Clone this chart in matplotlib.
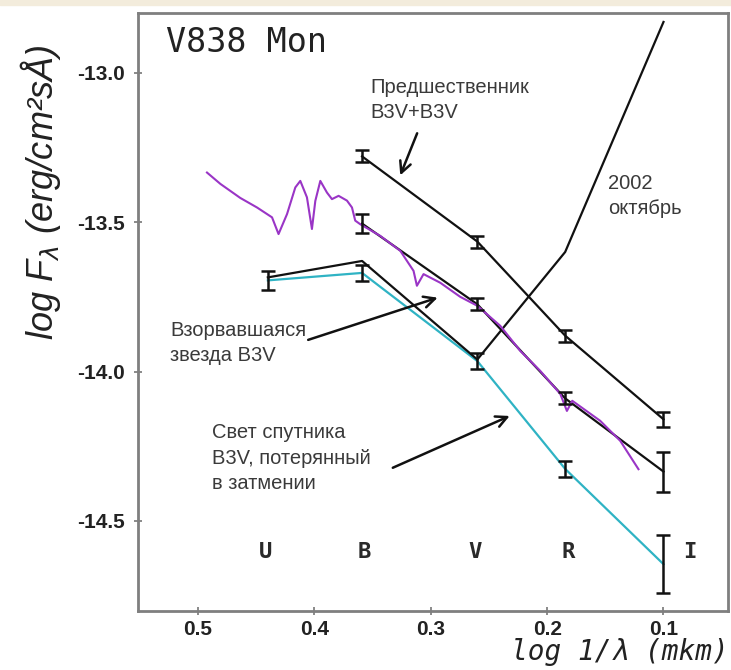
import matplotlib
matplotlib.use('Agg')
import matplotlib.pyplot as plt
from matplotlib.patches import Rectangle

plt.rcParams['axes.unicode_minus'] = False

# photometric bands and their log(1/lambda) positions
bands = ['U', 'B', 'V', 'R', 'I']
band_x = [0.44, 0.359, 0.26, 0.1845, 0.1]
band_label_x = [0.442, 0.357, 0.262, 0.182, 0.077]

# progenitor B3V+B3V (bands B..I)
prec_y = [-13.28, -13.565, -13.88, -14.16]
prec_err = [0.02, 0.02, 0.02, 0.025]

# exploded star B3V (bands B..I)
expl_y = [-13.505, -13.775, -14.09, -14.335]
expl_err = [0.033, 0.02, 0.02, 0.067]

# companion light lost in eclipse (bands U..I)
comp_y = [-13.695, -13.670, -13.965, -14.326, -14.645]
comp_err = [0.033, 0.028, 0.028, 0.028, 0.097]

# October 2002 (bands U..I)
oct_y = [-13.685, -13.63, -13.96, -13.60, -12.83]

# B3V spectrum
spec_x = [0.4923, 0.4808, 0.4637, 0.4493, 0.4364, 0.4308, 0.4235, 0.4164, 0.4121,
          0.4064, 0.4021, 0.3992, 0.3949, 0.3892, 0.3849, 0.3792, 0.3720, 0.3677,
          0.3649, 0.3606, 0.3434, 0.3262, 0.3148, 0.3119, 0.3062, 0.2918, 0.2747,
          0.2600, 0.2403, 0.2231, 0.2059, 0.1887, 0.1830, 0.1784, 0.1544, 0.1372,
          0.1215]
spec_y = [-13.334, -13.372, -13.419, -13.451, -13.484, -13.540, -13.473, -13.384, -13.362,
          -13.417, -13.523, -13.429, -13.362, -13.401, -13.423, -13.412, -13.428, -13.451,
          -13.495, -13.507, -13.546, -13.596, -13.663, -13.713, -13.674, -13.703, -13.750,
          -13.780, -13.847, -13.931, -13.998, -14.075, -14.132, -14.098, -14.165, -14.232,
          -14.327]

W, H = 731, 670
fig = plt.figure(figsize=(W / 100, H / 100), dpi=100)
fig.patches.append(Rectangle((0, 1 - 5 / H), 1, 5 / H, transform=fig.transFigure,
                             color='#f3ecdc', zorder=0))
ax = fig.add_axes([137.5 / W, 1 - 610.5 / H, (727.5 - 137.5) / W, (610.5 - 13) / H])


def fx(px):
    return px / W


def fy(py):
    return 1 - py / H


black = '#111111'
cyan = '#2fb3c4'
purple = '#9a35c6'

ax.plot(band_x[1:], prec_y, color=black, lw=1.6, zorder=3)
ax.plot(band_x[1:], expl_y, color=black, lw=1.6, zorder=3)
ax.plot(band_x, oct_y, color=black, lw=1.6, zorder=3)
ax.plot(band_x, comp_y, color=cyan, lw=1.6, zorder=2)
ax.plot(spec_x, spec_y, color=purple, lw=1.5, zorder=4)

ebkw = dict(fmt='none', ecolor=black, elinewidth=1.8, capsize=5, capthick=1.8, zorder=5)
ax.errorbar(band_x[1:], prec_y, yerr=prec_err, **ebkw)
ax.errorbar(band_x[1:], expl_y, yerr=expl_err, **ebkw)
ax.errorbar(band_x, comp_y, yerr=comp_err, **ebkw)

for b, bx in zip(bands, band_label_x):
    ax.text(bx, -14.604, b, ha='center', va='center', fontsize=16, weight='bold',
            family='DejaVu Sans Mono', color='#2a2a2a')

ax.set_xlim(0.552, 0.045)
ax.set_ylim(-14.80, -12.80)
ax.set_xticks([0.5, 0.4, 0.3, 0.2, 0.1])
ax.set_xticklabels(['0.5', '0.4', '0.3', '0.2', '0.1'])
ax.set_yticks([-13.0, -13.5, -14.0, -14.5])
ax.set_yticklabels(['-13.0', '-13.5', '-14.0', '-14.5'])
for lab in ax.get_xticklabels() + ax.get_yticklabels():
    lab.set_fontfamily('Liberation Sans')
    lab.set_fontweight('bold')
    lab.set_fontsize(15)
    lab.set_color('#222222')
ax.tick_params(direction='inout', length=6, width=1.2, color='#777777')
ax.tick_params(axis='y', pad=6)
ax.tick_params(axis='x', pad=4)
for s in ax.spines.values():
    s.set_color('#7f7f7f')
    s.set_linewidth(2.0)

txt = dict(family='Liberation Sans', fontsize=14.5, color='#3a3a3a', ha='left',
           va='center', linespacing=1.45)
fig.text(fx(166), fy(43), 'V838 Mon', family='DejaVu Sans Mono', fontsize=24,
         color='#222222', ha='left', va='center')
fig.text(fx(370), fy(100), 'Предшественник\nB3V+B3V', **txt)
fig.text(fx(608), fy(196), '2002\nоктябрь', **txt)
fig.text(fx(170), fy(343), 'Взорвавшаяся\nзвезда B3V', **txt)
fig.text(fx(212), fy(458), 'Свет спутника\nB3V, потерянный\nв затмении', **txt)

arr = dict(arrowstyle='->', color=black, lw=1.8, mutation_scale=20)
ax.annotate('', xy=(0.3271, -13.352), xytext=(0.3108, -13.194), arrowprops=arr)
ax.annotate('', xy=(0.2918, -13.75), xytext=(0.4076, -13.897), arrowprops=arr)
ax.annotate('', xy=(0.2300, -14.145), xytext=(0.3348, -14.326), arrowprops=arr)

fig.text(fx(729), fy(652), 'log 1/λ (mkm)', family='DejaVu Sans Mono', style='oblique',
         fontsize=20, color='#222222', ha='right', va='center')
fig.text(fx(41), fy(192), r'log F$_\lambda$ (erg/cm²sÅ)', family='Liberation Sans',
         style='italic', fontsize=26, color='#222222', rotation=90, ha='center', va='center')

fig.savefig('out.png', dpi=100)
